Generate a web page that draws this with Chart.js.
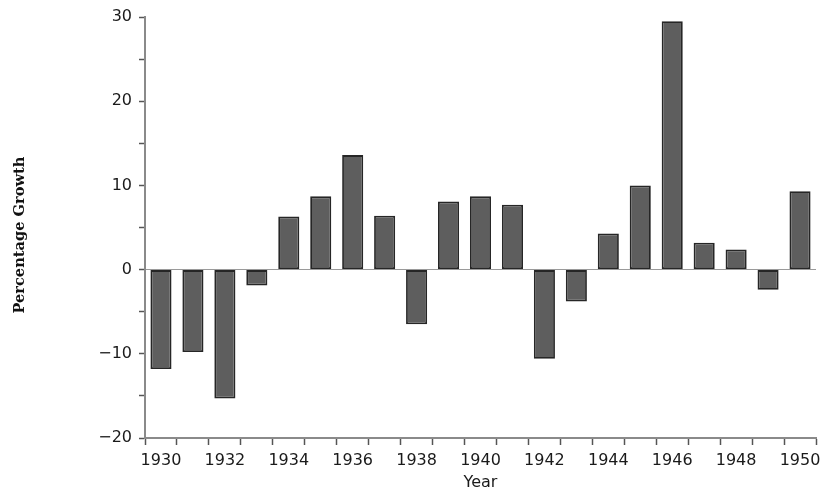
<!DOCTYPE html>
<html>
<head>
<meta charset="utf-8">
<script src="https://cdn.jsdelivr.net/npm/chart.js@4.4.1/dist/chart.umd.min.js"></script>
<style>
    html, body { margin: 0; padding: 0; background: #fff; }
    #wrap { width: 820px; height: 491px; position: relative; }
</style>
</head>
<body>
<div id="wrap"><canvas id="growthChart"></canvas></div>
<script>
    // Years on the x axis
    let years = ['1930', '1931', '1932', '1933', '1934', '1935', '1936', '1937', '1938', '1939', '1940',
                 '1941', '1942', '1943', '1944', '1945', '1946', '1947', '1948', '1949', '1950'];
    // Percentage growth per year
    let growth = [-11.8, -9.8, -15.3, -1.9, 6.3, 8.7, 13.6, 6.4, -6.5, 8.1, 8.7,
                  7.7, -10.6, -3.8, 4.3, 10.0, 29.5, 3.2, 2.4, -2.4, 9.3];
    // Y axis range and ticks
    let yMin = -20;
    let yMax = 30;
    let yStep = 5;
    let yLabelStep = 10;

    let sansFont = "'DejaVu Sans', Arial, sans-serif";
    let tickFont = { family: sansFont, size: 16 };

    new Chart(document.getElementById('growthChart'), {
        type: 'bar',
        data: {
            labels: years,
            datasets: [{
                data: growth,
                backgroundColor: '#5e5e5e',
                borderColor: '#262626',
                borderWidth: 1.8,
                borderSkipped: false,
                barPercentage: 0.66,
                categoryPercentage: 1.0
            }]
        },
        options: {
            responsive: true,
            maintainAspectRatio: false,
            animation: false,
            layout: { padding: { top: 17, right: 4, bottom: 0, left: 0 } },
            plugins: {
                legend: { display: false },
                tooltip: { enabled: false }
            },
            scales: {
                x: {
                    offset: true,
                    afterFit: function(scale) {
                        // keep the plot area fixed, labels sit inside their bands anyway
                        scale.height = 53;
                        scale.paddingLeft = 0;
                        scale.paddingRight = 0;
                    },
                    grid: {
                        offset: true,
                        drawOnChartArea: false,
                        tickLength: 7,
                        tickColor: '#555',
                        tickWidth: 1.5
                    },
                    border: { display: true, color: '#8a8a8a', width: 2 },
                    ticks: {
                        autoSkip: false,
                        maxRotation: 0,
                        padding: 6,
                        color: '#1a1a1a',
                        font: tickFont,
                        callback: function(val, idx) {
                            return idx % 2 === 0 ? this.getLabelForValue(val) : '';
                        }
                    },
                    title: {
                        display: true,
                        text: 'Year',
                        color: '#1a1a1a',
                        font: { family: sansFont, size: 16, lineHeight: 1 },
                        padding: { top: 0, bottom: 0 }
                    }
                },
                y: {
                    min: yMin,
                    max: yMax,
                    afterFit: function(scale) {
                        scale.width = 145;
                        scale.paddingTop = 0;
                        scale.paddingBottom = 0;
                    },
                    grid: {
                        drawOnChartArea: true,
                        color: function(ctx) {
                            return ctx.tick && ctx.tick.value === 0 ? '#9a9a9a' : 'rgba(0,0,0,0)';
                        },
                        lineWidth: 1,
                        tickLength: 6,
                        tickColor: '#555',
                        tickWidth: 1.5
                    },
                    border: { display: true, color: '#8a8a8a', width: 2 },
                    ticks: {
                        stepSize: yStep,
                        padding: 7,
                        color: '#1a1a1a',
                        font: tickFont,
                        callback: function(v) {
                            if (v % yLabelStep !== 0) return '';
                            return v < 0 ? '\u2212' + Math.abs(v) : String(v);
                        }
                    },
                    title: {
                        display: true,
                        text: 'Percentage Growth\u00a0\u00a0\u00a0',
                        color: '#111',
                        font: { family: "'DejaVu Serif', 'Liberation Serif', serif", size: 14.6, weight: 'bold', lineHeight: 1.2 },
                        padding: { top: 11, bottom: 0 }
                    }
                }
            }
        }
    });
</script>
</body>
</html>
